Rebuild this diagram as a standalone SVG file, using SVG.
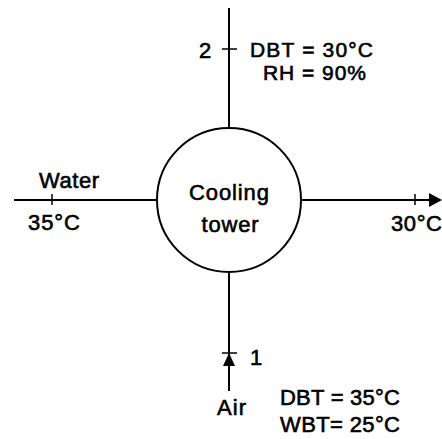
<svg xmlns="http://www.w3.org/2000/svg" width="442" height="439" viewBox="0 0 442 439">
<defs>
<style>
text{font-family:"Liberation Sans",Arial,sans-serif;font-size:22px;fill:#000;stroke:#000;stroke-width:0.6px;}
text.sm{font-size:21px;}
.ln{stroke:#000;stroke-width:2;fill:none;}
.tk{stroke:#000;stroke-width:1.5;fill:none;}
</style>
</defs>
<rect width="442" height="439" fill="#fff"/>
<g id="connectors">
<line class="ln" x1="229" y1="8" x2="229" y2="128"/>
<line class="tk" x1="222" y1="49" x2="237" y2="49"/>
<line class="ln" x1="14" y1="200" x2="157" y2="200"/>
<line class="tk" x1="52" y1="194" x2="52" y2="205"/>
<line class="ln" x1="301" y1="200" x2="432" y2="200"/>
<line class="tk" x1="415" y1="194" x2="415" y2="205"/>
<polygon points="442,200 429,193 429,207" fill="#000"/>
<line class="ln" x1="229" y1="272" x2="229" y2="391"/>
<line class="tk" x1="222" y1="353" x2="237" y2="353"/>
<polygon points="229,353 223,366 235,366" fill="#000"/>
</g>
<g id="cooling-tower">
<circle cx="229" cy="200" r="72" class="ln"/>
<text x="229" y="200" text-anchor="middle" textLength="80">Cooling</text>
<text x="230" y="232" text-anchor="middle" textLength="57">tower</text>
</g>
<g id="labels">
<text x="199" y="58">2</text>
<text class="sm" x="250" y="57" textLength="123">DBT = 30°C</text>
<text class="sm" x="263" y="79.5" textLength="103">RH = 90%</text>
<text x="39" y="188" textLength="60">Water</text>
<text x="28" y="230" textLength="52">35°C</text>
<text x="391" y="231" textLength="51">30°C</text>
<text x="250" y="365">1</text>
<text x="217" y="415" textLength="29">Air</text>
<text x="280" y="405" textLength="120">DBT = 35°C</text>
<text x="280" y="432" textLength="120">WBT= 25°C</text>
</g>
</svg>
